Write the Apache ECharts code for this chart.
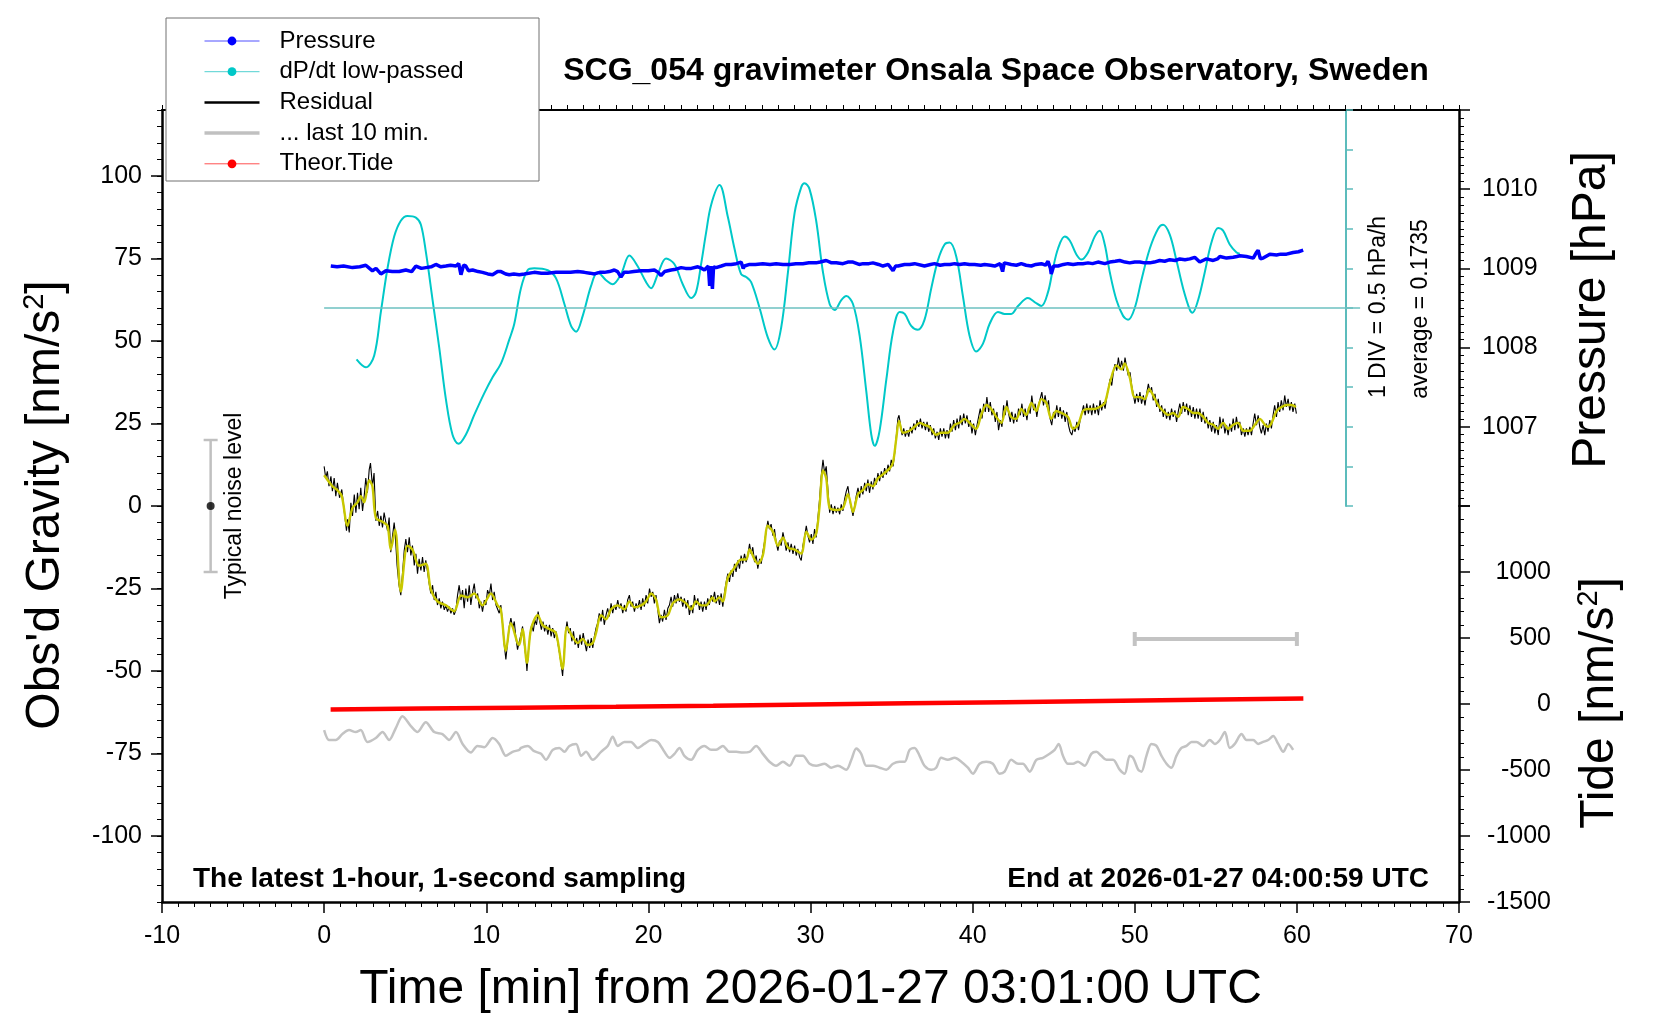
<!DOCTYPE html>
<html>
<head>
<meta charset="utf-8">
<script src="https://cdn.jsdelivr.net/npm/echarts@6/dist/echarts.min.js"></script>
<style>html,body{margin:0;padding:0;background:#fff;}#c{width:1660px;height:1020px;}</style>
</head>
<body>
<div id="c"></div>
<script>
// ---------- data ----------
const TITLE = 'SCG_054 gravimeter Onsala Space Observatory, Sweden';
const X_NAME = 'Time [min] from 2026-01-27 03:01:00 UTC';
const NOTE_LEFT = 'The latest 1-hour, 1-second sampling';
const NOTE_RIGHT = 'End at 2026-01-27 04:00:59 UTC';
const GRAVITY_TICKS = [-100, -75, -50, -25, 0, 25, 50, 75, 100];
const PRESSURE_LABELS = [1007, 1008, 1009, 1010];
const TIDE_LABELS = [-1500, -1000, -500, 0, 500, 1000];
const DPDT_AVG = 0.1735;   // hPa/h
const DPDT_DIV = 0.5;      // hPa/h per division
const AVG_LINE_SPAN = [0, 63.9];
const NOISE_BAR = [[-7, -20, 20]];       // [time, low, high]
const NOISE_DOT = [[-7, 0]];
const LAST10_BAR = [[50, 60, -40.3]];    // [from, to, level]

// Pressure [hPa]
const PRESSURE = [
[0.41,1009.03],[0.8,1009.02],[1.2,1009.03],[1.75,1009.01],[2.2,1009.02],[2.57,1009.04],[2.8,1009.00],[2.98,1008.97],[3.2,1009.00],[3.5,1008.93],[3.81,1008.97],[4.2,1008.96],[4.63,1008.96],[5.04,1008.98],[5.4,1008.96],[5.66,1009.03],[6.0,1009.00],[6.28,1009.01],[6.6,1009.02],[6.89,1009.05],[7.2,1009.02],[7.51,1009.03],[7.8,1009.04],[8.13,1009.03],[8.3,1009.06],[8.44,1008.92],[8.6,1009.04],[8.74,1009.03],[8.9,1008.97],[9.16,1008.98],[9.5,1008.96],[9.77,1008.95],[10.1,1008.93],[10.39,1008.92],[10.7,1008.96],[10.91,1008.96],[11.2,1008.93],[11.42,1008.92],[11.7,1008.93],[12.04,1008.92],
[12.35,1008.93],[12.96,1008.95],[13.4,1008.94],[13.79,1008.94],[14.3,1008.95],[14.82,1008.95],[15.2,1008.95],[15.64,1008.96],[16.05,1008.95],[16.4,1008.94],[16.67,1008.93],[17.0,1008.95],[17.29,1008.95],[17.6,1008.96],[17.9,1008.98],[18.1,1008.96],[18.31,1008.89],[18.5,1008.95],[18.73,1008.95],[19.1,1008.96],[19.55,1008.97],[20.0,1008.97],[20.37,1008.98],[20.6,1008.95],[20.78,1008.91],[21.0,1008.96],[21.4,1008.98],[21.7,1008.99],[22.02,1009.01],[22.3,1009.00],[22.64,1009.00],[23.05,1009.02],[23.3,1009.00],[23.46,1008.98],[23.7,1009.03],[23.78,1008.78],[23.85,1009.03],[23.95,1008.74],[24.02,1009.02],
[24.18,1009.01],[24.5,1009.03],[24.8,1009.05],[25.1,1009.05],[25.42,1009.06],[25.72,1009.08],[25.85,1009.00],[25.93,1009.03],[26.24,1009.05],[26.6,1009.05],[27.06,1009.06],[27.5,1009.05],[27.88,1009.06],[28.3,1009.05],[28.71,1009.05],[29.1,1009.06],[29.53,1009.06],[29.9,1009.07],[30.35,1009.07],[30.6,1009.08],[30.97,1009.10],[31.3,1009.07],[31.59,1009.07],[32.0,1009.06],[32.3,1009.08],[32.62,1009.08],[33.0,1009.05],[33.24,1009.06],[33.6,1009.06],[33.85,1009.07],[34.2,1009.05],[34.47,1009.03],[34.8,1009.05],[35.09,1008.97],[35.25,1009.03],[35.4,1009.03],[35.8,1009.05],[36.12,1009.05],
[36.42,1009.06],[37.03,1009.03],[37.4,1009.05],[37.65,1009.06],[38.0,1009.04],[38.27,1009.05],[38.6,1009.05],[38.89,1009.06],[39.2,1009.05],[39.5,1009.06],[39.8,1009.05],[40.12,1009.05],[40.5,1009.04],[40.74,1009.05],[41.1,1009.04],[41.36,1009.03],[41.7,1009.06],[41.85,1008.96],[41.95,1009.07],[42.38,1009.05],[42.7,1009.04],[43.0,1009.06],[43.3,1009.04],[43.62,1009.03],[43.9,1009.05],[44.24,1009.06],[44.5,1009.04],[44.65,1009.09],[44.8,1009.00],[44.85,1008.93],[45.0,1009.03],[45.27,1009.03],[45.6,1009.05],[45.88,1009.06],[46.2,1009.05],[46.5,1009.06],[46.8,1009.06],[47.12,1009.07],[47.4,1009.06],[47.73,1009.08],[48.15,1009.06],
[48.46,1009.08],[48.8,1009.09],[49.07,1009.10],[49.4,1009.08],[49.69,1009.07],[50.0,1009.08],[50.31,1009.08],[50.6,1009.07],[50.93,1009.07],[51.2,1009.08],[51.54,1009.10],[51.85,1009.09],[52.16,1009.11],[52.5,1009.10],[52.78,1009.12],[53.1,1009.11],[53.4,1009.12],[53.7,1009.14],[54.01,1009.08],[54.2,1009.10],[54.42,1009.12],[54.84,1009.10],[55.1,1009.12],[55.25,1009.15],[55.66,1009.13],[56.07,1009.14],[56.3,1009.15],[56.48,1009.16],[56.89,1009.15],[57.31,1009.13],[57.5,1009.20],[57.61,1009.23],[57.75,1009.12],[57.92,1009.13],[58.33,1009.18],[58.75,1009.17],[59.0,1009.18],[59.36,1009.18],[59.77,1009.20],[60.1,1009.21],[60.39,1009.23]
];

// dP/dt low-passed [hPa/h]
const DPDT = [
[2.00,-0.476],[2.57,-0.576],[3.09,-0.426],[3.50,0.124],[3.91,0.675],[4.32,1.075],[4.73,1.275],[5.14,1.335],[5.66,1.315],[5.97,1.225],[6.28,0.875],[6.69,0.274],[7.10,-0.326],[7.51,-0.977],[7.92,-1.427],[8.29,-1.542],[8.74,-1.427],[9.26,-1.177],[9.88,-0.901],[10.39,-0.701],[10.91,-0.526],[11.42,-0.226],[11.73,-0.026],[12.14,0.424],[12.55,0.650],[12.96,0.675],[13.79,0.650],[14.30,0.550],[14.82,0.224],[15.23,-0.051],[15.54,-0.126],[15.95,0.074],[16.46,0.449],[16.87,0.625],[17.39,0.525],[17.80,0.474],[18.31,0.600],[18.83,0.835],[19.34,0.700],[19.86,0.500],[20.17,0.424],[20.58,0.600],[21.09,0.800],[21.61,0.725],[22.12,0.474],[22.64,0.299],[22.94,0.374],[23.25,0.725],[23.56,1.125],[23.87,1.475],[24.39,1.725],[24.90,1.325],[25.31,0.925],[25.72,0.600],[26.03,0.565],[26.34,0.500],[26.86,0.174],[27.37,-0.201],[27.78,-0.351],[28.19,-0.076],[28.61,0.625],[29.02,1.375],[29.43,1.700],[29.63,1.750],[29.94,1.675],[30.35,1.275],[30.77,0.625],[31.18,0.224],[31.49,0.149],[31.90,0.274],[32.21,0.324],[32.62,0.224],[33.03,-0.176],[33.44,-0.877],[33.75,-1.427],[33.96,-1.567],[34.26,-1.377],[34.68,-0.726],[35.09,-0.126],[35.50,0.124],[35.81,0.099],[36.21,-0.051],[36.62,-0.101],[37.03,0.024],[37.45,0.424],[37.86,0.775],[38.27,0.975],[38.58,1.000],[38.99,0.825],[39.40,0.324],[39.81,-0.176],[40.22,-0.376],[40.64,-0.276],[41.05,-0.026],[41.56,0.124],[41.97,0.099],[42.38,0.099],[42.80,0.199],[43.41,0.299],[43.82,0.249],[44.24,0.199],[44.65,0.374],[44.96,0.675],[45.27,0.925],[45.68,1.075],[45.99,1.025],[46.40,0.850],[46.71,0.785],[47.12,0.875],[47.53,1.075],[47.84,1.150],[48.15,0.975],[48.46,0.625],[48.87,0.274],[49.28,0.074],[49.59,0.024],[50.00,0.174],[50.41,0.525],[50.93,0.925],[51.44,1.175],[51.75,1.225],[52.16,1.100],[52.57,0.775],[52.98,0.424],[53.40,0.149],[53.56,0.114],[53.91,0.274],[54.32,0.625],[54.73,1.000],[55.14,1.185],[55.45,1.150],[55.86,0.975],[56.28,0.875],[56.48,0.860]
];

// Residual gravity [nm/s^2], raw
const RESIDUAL = [
[0.00,12.0],[0.10,8.5],[0.20,10.5],[0.30,6.0],[0.42,9.0],[0.51,4.5],[0.62,8.5],[0.72,3.0],[0.82,7.0],[0.95,2.5],[1.09,5.0],[1.25,-2.0],[1.38,-7.5],[1.44,-4.0],[1.55,-8.0],[1.65,1.0],[1.75,-3.0],[1.86,3.5],[1.96,-2.0],[2.06,4.0],[2.16,-1.0],[2.26,5.5],[2.37,-1.5],[2.47,3.0],[2.57,8.5],[2.67,4.0],[2.78,11.0],[2.86,13.0],[2.98,6.0],[3.08,10.0],[3.19,-4.5],[3.30,-1.5],[3.40,-6.0],[3.50,-3.0],[3.60,-6.5],[3.70,-2.0],[3.81,-5.0],[3.91,-7.5],[4.01,-3.5],[4.11,-14.0],[4.22,-9.0],[4.32,-5.0],[4.38,-8.0],[4.50,-18.0],[4.62,-24.0],[4.73,-27.0],[4.84,-20.0],[4.94,-13.5],[5.04,-10.0],[5.14,-14.0],[5.25,-9.5],[5.35,-15.0],[5.45,-12.0],[5.56,-18.0],[5.66,-14.5],[5.76,-20.5],[5.86,-16.0],[5.97,-19.5],[6.07,-15.5],[6.17,-20.0],[6.27,-16.5],[6.38,-20.0],[6.48,-23.5],[6.58,-26.5],[6.69,-24.0],[6.79,-28.5],[6.89,-26.0],[6.99,-30.0],[7.10,-28.0],[7.20,-31.0],[7.30,-29.0],[7.41,-31.5],[7.51,-30.0],[7.61,-32.0],[7.72,-30.5],[7.82,-32.5],[7.92,-31.0],[8.02,-33.0],[8.13,-31.5],[8.23,-27.0],[8.33,-24.0],[8.44,-28.5],[8.54,-25.5],[8.64,-31.0],[8.74,-25.0],[8.85,-29.0],[8.95,-24.0],[9.05,-30.0],[9.16,-26.0],[9.26,-23.5],[9.36,-28.0],[9.47,-26.5],[9.57,-31.0],[9.67,-29.0],[9.77,-32.0],[9.88,-28.5],[9.98,-30.0],[10.08,-25.5],[10.19,-27.0],[10.29,-23.5],[10.39,-28.5],[10.49,-26.0],[10.60,-30.0],[10.70,-29.5],[10.80,-32.5],[10.90,-30.0],[11.01,-36.0],[11.11,-42.0],[11.21,-46.5],[11.32,-41.0],[11.42,-36.5],[11.52,-34.0],[11.63,-37.0],[11.73,-35.0],[11.83,-40.0],[11.93,-43.5],[12.04,-41.0],
[12.14,-39.0],[12.24,-36.5],[12.35,-42.0],[12.45,-46.0],[12.51,-50.0],[12.60,-44.0],[12.70,-39.0],[12.80,-36.0],[12.90,-38.0],[13.00,-34.5],[13.10,-36.0],[13.20,-32.0],[13.30,-35.0],[13.40,-37.5],[13.50,-35.0],[13.60,-38.0],[13.70,-36.0],[13.80,-39.0],[13.90,-36.0],[14.00,-39.5],[14.10,-37.0],[14.20,-40.0],[14.30,-38.0],[14.40,-41.0],[14.50,-44.0],[14.62,-48.0],[14.71,-51.5],[14.80,-45.0],[14.90,-38.0],[14.98,-35.0],[15.08,-38.5],[15.18,-37.0],[15.28,-41.0],[15.38,-38.0],[15.48,-42.0],[15.58,-40.0],[15.68,-43.0],[15.78,-39.0],[15.88,-42.0],[15.98,-38.5],[16.08,-41.5],[16.18,-44.0],[16.28,-40.5],[16.38,-43.0],[16.48,-40.0],[16.57,-43.0],[16.67,-39.5],[16.77,-37.0],[16.87,-35.5],[16.97,-32.5],[17.08,-35.0],[17.18,-31.5],[17.28,-36.0],[17.39,-33.0],[17.49,-31.0],[17.59,-33.5],[17.70,-29.5],[17.80,-32.5],[17.90,-30.0],[18.00,-31.5],[18.11,-28.5],[18.21,-31.0],[18.31,-29.5],[18.42,-32.5],[18.52,-30.0],[18.62,-32.0],[18.72,-28.5],[18.83,-27.0],[18.93,-30.5],[19.03,-29.0],[19.14,-32.0],[19.24,-29.5],[19.34,-31.0],[19.45,-28.5],[19.55,-31.5],[19.65,-28.0],[19.75,-30.5],[19.86,-27.0],[19.96,-29.5],[20.07,-25.0],[20.17,-27.5],[20.27,-26.0],[20.37,-29.5],[20.47,-27.0],[20.58,-31.5],[20.68,-35.5],[20.78,-33.0],[20.88,-35.0],[20.99,-31.5],[21.09,-34.5],[21.20,-31.0],[21.30,-30.0],[21.40,-27.5],[21.50,-30.5],[21.61,-27.0],[21.71,-29.5],[21.81,-26.5],[21.91,-29.0],[22.02,-27.5],[22.12,-30.5],[22.22,-28.0],[22.33,-31.0],[22.43,-28.5],[22.53,-33.0],[22.64,-30.0],[22.74,-32.5],[22.84,-27.0],[22.94,-30.0],[23.05,-28.0],[23.15,-31.5],[23.25,-29.0],[23.35,-32.0],[23.46,-29.0],[23.56,-31.5],[23.66,-28.0],[23.76,-30.0],[23.87,-27.0],[23.97,-29.0],
[24.08,-26.0],[24.18,-29.5],[24.29,-27.0],[24.39,-30.0],[24.49,-26.5],[24.59,-30.5],[24.70,-26.0],[24.80,-23.0],[24.90,-20.5],[25.00,-23.0],[25.10,-19.5],[25.21,-21.5],[25.31,-17.5],[25.41,-20.0],[25.52,-16.5],[25.62,-19.0],[25.72,-15.0],[25.82,-17.5],[25.93,-14.5],[26.03,-17.0],[26.13,-15.0],[26.24,-11.5],[26.34,-14.5],[26.44,-12.5],[26.55,-17.0],[26.65,-15.0],[26.75,-19.0],[26.86,-16.0],[26.96,-17.5],[27.06,-14.0],[27.16,-11.0],[27.27,-7.5],[27.37,-4.5],[27.47,-7.0],[27.57,-5.5],[27.68,-9.0],[27.78,-7.0],[27.88,-11.0],[27.99,-13.5],[28.09,-10.5],[28.19,-12.0],[28.30,-8.0],[28.40,-10.5],[28.50,-13.5],[28.61,-11.0],[28.71,-14.0],[28.81,-11.5],[28.92,-14.5],[29.02,-12.0],[29.12,-15.0],[29.22,-13.0],[29.33,-15.5],[29.43,-16.5],[29.53,-12.0],[29.63,-9.5],[29.74,-6.0],[29.84,-9.0],[29.94,-11.0],[30.05,-8.5],[30.15,-11.5],[30.25,-7.0],[30.35,-9.5],[30.45,-4.0],[30.56,2.0],[30.66,9.0],[30.77,14.0],[30.87,10.0],[30.97,12.0],[31.08,4.5],[31.18,-2.0],[31.28,0.5],[31.39,-2.5],[31.49,0.0],[31.59,-2.0],[31.69,-0.5],[31.80,-2.5],[31.90,0.5],[32.00,-1.5],[32.10,2.0],[32.21,4.5],[32.31,6.0],[32.41,2.0],[32.52,-0.5],[32.62,-3.0],[32.72,0.0],[32.82,3.0],[32.93,5.5],[33.03,2.5],[33.13,6.0],[33.23,3.5],[33.34,7.0],[33.44,4.5],[33.54,8.0],[33.64,4.0],[33.75,7.5],[33.85,5.0],[33.95,8.5],[34.06,6.5],[34.16,10.0],[34.26,7.5],[34.37,10.5],[34.47,8.5],[34.57,11.5],[34.68,9.5],[34.78,12.5],[34.88,10.5],[34.98,14.0],[35.09,12.0],[35.19,16.0],[35.29,21.0],[35.39,26.5],[35.46,27.5],[35.55,24.5],[35.65,21.5],[35.75,23.5],[35.85,21.0],[35.95,23.0],
[36.06,21.0],[36.16,24.0],[36.26,22.0],[36.37,25.0],[36.47,23.0],[36.57,26.0],[36.68,24.0],[36.78,26.5],[36.88,23.5],[36.98,25.5],[37.09,23.0],[37.19,25.5],[37.29,22.5],[37.39,24.5],[37.50,21.5],[37.60,23.5],[37.70,20.5],[37.81,22.5],[37.91,20.0],[38.01,23.5],[38.11,21.0],[38.22,23.5],[38.32,20.5],[38.42,23.0],[38.52,20.5],[38.63,25.0],[38.73,22.5],[38.83,26.0],[38.94,23.0],[39.04,26.5],[39.14,23.5],[39.24,27.5],[39.35,24.5],[39.45,28.0],[39.55,25.0],[39.65,27.5],[39.76,24.0],[39.86,26.0],[39.96,22.0],[40.06,25.0],[40.17,21.5],[40.27,24.5],[40.37,27.0],[40.47,29.5],[40.58,26.5],[40.68,31.0],[40.78,28.5],[40.88,33.0],[40.99,28.5],[41.09,31.5],[41.19,27.5],[41.29,29.5],[41.40,25.5],[41.50,28.5],[41.60,23.0],[41.70,26.0],[41.81,24.0],[41.91,30.5],[42.01,27.5],[42.12,32.0],[42.22,28.0],[42.32,25.5],[42.42,28.5],[42.53,25.0],[42.63,28.0],[42.73,25.5],[42.83,29.5],[42.94,27.5],[43.04,31.0],[43.14,27.0],[43.24,29.5],[43.35,26.0],[43.45,30.0],[43.55,28.0],[43.65,33.5],[43.76,29.0],[43.86,31.0],[43.96,27.0],[44.06,30.5],[44.17,31.0],[44.27,34.5],[44.37,30.5],[44.47,33.5],[44.58,30.0],[44.68,32.0],[44.78,26.5],[44.88,24.5],[44.99,28.5],[45.09,26.5],[45.19,30.5],[45.29,27.0],[45.40,30.0],[45.50,26.5],[45.60,29.0],[45.71,25.5],[45.81,28.5],[45.91,24.5],[46.01,22.5],[46.12,21.5],[46.22,24.0],[46.32,22.5],[46.43,25.5],[46.53,23.0],[46.63,26.0],[46.73,28.0],[46.84,30.5],[46.94,27.5],[47.04,31.0],[47.14,28.0],[47.25,30.5],[47.35,27.5],[47.45,31.0],[47.55,28.0],[47.66,30.5],[47.76,27.5],[47.86,32.0],[47.96,29.0],
[48.07,31.5],[48.17,29.5],[48.27,33.0],[48.37,35.5],[48.48,38.5],[48.58,36.5],[48.68,40.5],[48.78,43.0],[48.89,41.0],[48.99,45.0],[49.09,41.5],[49.19,44.0],[49.30,41.0],[49.40,45.0],[49.50,42.0],[49.60,39.5],[49.71,40.5],[49.81,36.5],[49.91,34.0],[50.01,31.0],[50.12,34.0],[50.22,31.5],[50.32,34.5],[50.42,31.0],[50.53,33.5],[50.63,30.5],[50.73,34.0],[50.84,37.0],[50.94,34.5],[51.04,36.0],[51.14,32.0],[51.25,34.0],[51.35,30.0],[51.45,32.5],[51.55,28.5],[51.66,30.5],[51.76,27.0],[51.86,29.5],[51.96,26.5],[52.07,28.5],[52.17,26.0],[52.27,29.5],[52.37,27.0],[52.48,29.0],[52.58,25.5],[52.68,28.5],[52.78,31.0],[52.89,28.0],[52.99,31.5],[53.09,28.5],[53.20,31.0],[53.30,27.5],[53.40,30.5],[53.50,27.0],[53.61,30.0],[53.71,26.5],[53.81,29.5],[53.91,26.5],[54.02,29.5],[54.12,25.5],[54.22,28.5],[54.33,25.0],[54.43,27.0],[54.53,23.5],[54.63,26.0],[54.74,22.5],[54.84,25.5],[54.94,22.0],[55.04,24.5],[55.15,21.5],[55.25,27.0],[55.35,23.5],[55.45,26.5],[55.56,22.0],[55.66,24.5],[55.76,21.5],[55.86,25.0],[55.97,22.5],[56.07,26.5],[56.17,23.0],[56.27,27.0],[56.38,23.5],[56.48,25.5],[56.58,21.5],[56.69,23.5],[56.79,21.0],[56.89,23.5],[56.99,21.5],[57.10,24.0],[57.20,21.5],[57.30,25.0],[57.40,28.0],[57.51,24.5],[57.61,27.5],[57.71,24.0],[57.81,22.0],[57.92,24.5],[58.02,21.5],[58.12,25.0],[58.22,22.5],[58.33,26.0],[58.43,23.5],[58.53,27.5],[58.63,30.5],[58.74,27.0],[58.84,31.5],[58.94,28.5],[59.04,32.0],[59.15,29.0],[59.25,33.5],[59.35,30.0],[59.46,32.5],[59.56,29.0],[59.66,31.5],[59.76,28.5],[59.87,31.0],[59.97,28.0]
];

// Residual gravity [nm/s^2], smoothed (yellow)
const RESIDUAL_SMOOTH = [
[0.00,9.3],[0.51,6.0],[0.82,4.8],[1.09,3.0],[1.44,-6.0],[1.75,-0.6],[2.06,1.1],[2.26,3.0],[2.47,1.1],[2.78,7.8],[2.98,6.0],[3.19,-3.6],[3.60,-4.8],[3.91,-6.0],[4.11,-13.2],[4.38,-7.2],[4.73,-25.9],[5.14,-12.0],[5.45,-13.2],[5.86,-18.1],[6.27,-17.5],[6.58,-25.3],[6.99,-28.9],[7.51,-30.1],[8.02,-31.9],[8.44,-27.1],[8.85,-27.7],[9.26,-26.5],[9.77,-30.1],[10.29,-26.5],[10.70,-30.1],[10.90,-31.3],[11.21,-43.9],[11.52,-35.5],[11.93,-41.5],
[12.04,-42.1],[12.24,-37.3],[12.51,-47.5],[12.76,-37.3],[13.17,-33.1],[13.48,-36.1],[13.89,-37.3],[14.30,-38.5],[14.71,-49.3],[14.98,-36.7],[15.33,-39.7],[15.64,-41.5],[15.95,-40.3],[16.26,-42.1],[16.57,-41.5],[16.77,-38.5],[17.08,-33.1],[17.39,-34.3],[17.70,-31.3],[18.11,-30.1],[18.52,-31.3],[18.83,-28.9],[19.14,-30.7],[19.55,-30.1],[19.86,-28.9],[20.17,-26.5],[20.47,-28.3],[20.78,-33.7],[21.20,-33.1],[21.50,-29.5],[21.91,-28.3],[22.33,-29.5],[22.64,-31.3],[22.94,-28.9],[23.25,-30.1],[23.56,-30.1],[23.97,-27.7],
[24.08,-28.9],[24.39,-27.7],[24.59,-28.9],[24.90,-21.7],[25.31,-18.7],[25.72,-16.2],[26.03,-16.2],[26.24,-13.2],[26.55,-16.2],[26.75,-17.5],[27.06,-15.0],[27.37,-6.0],[27.68,-7.8],[27.99,-12.0],[28.30,-9.6],[28.61,-12.6],[29.02,-13.2],[29.43,-14.4],[29.74,-7.8],[30.05,-10.2],[30.35,-8.4],[30.56,0.0],[30.77,10.8],[30.97,8.4],[31.18,-0.6],[31.59,-1.2],[32.00,-0.6],[32.31,3.6],[32.62,-1.8],[32.93,3.6],[33.23,4.8],[33.54,6.6],[33.85,6.0],[34.16,8.4],[34.47,9.6],[34.88,11.4],[35.09,13.2],[35.29,20.4],[35.46,25.8],[35.70,22.2],
[36.11,22.8],[36.42,24.0],[36.73,25.2],[37.03,24.6],[37.34,24.0],[37.75,21.6],[38.06,22.2],[38.47,22.2],[38.89,24.6],[39.20,25.2],[39.50,26.4],[39.81,25.2],[40.22,23.4],[40.53,27.6],[40.84,30.6],[41.15,29.4],[41.46,27.0],[41.77,25.2],[42.08,30.0],[42.38,27.0],[42.69,26.4],[43.00,29.4],[43.31,27.6],[43.62,31.2],[43.93,28.8],[44.24,32.4],[44.55,31.2],[44.85,26.4],[45.16,28.8],[45.47,28.2],[45.88,27.0],[46.19,23.4],[46.50,24.6],[46.81,28.8],[47.12,29.4],[47.53,29.4],[47.84,30.0],
[48.15,31.2],[48.46,37.2],[48.87,42.6],[49.18,41.4],[49.38,43.2],[49.69,39.0],[50.00,33.0],[50.31,33.0],[50.62,32.4],[50.89,35.4],[51.13,33.6],[51.44,30.6],[51.75,28.8],[52.06,27.6],[52.37,28.2],[52.68,27.0],[52.98,30.0],[53.29,29.4],[53.60,28.2],[53.91,28.2],[54.22,27.0],[54.53,25.2],[54.84,24.6],[55.14,23.4],[55.45,25.2],[55.76,23.4],[56.07,24.6],[56.38,25.2],[56.69,22.8],[57.10,22.8],[57.41,24.6],[57.72,26.4],[58.03,24.6],[58.23,24.0],[58.44,25.2],[58.75,28.8],[59.06,30.0],[59.36,30.6],[59.67,30.6],[59.94,30.0]
];

// "... last 10 min." trace [nm/s^2]
const LAST10 = [
[0.00,-67.9],[0.31,-70.9],[0.72,-70.9],[1.13,-69.1],[1.54,-67.9],[1.95,-68.5],[2.26,-67.9],[2.67,-71.5],[3.19,-70.3],[3.60,-68.5],[4.01,-70.9],[4.42,-67.3],[4.83,-63.7],[5.35,-66.7],[5.76,-68.5],[6.27,-65.5],[6.79,-68.5],[7.30,-69.1],[7.71,-70.9],[8.13,-68.5],[8.54,-72.1],[9.05,-74.7],[9.46,-72.7],[9.88,-73.1],[10.39,-70.3],[10.80,-72.1],[11.21,-75.7],[11.62,-74.5],[12.04,-73.9],
[12.14,-73.3],[12.55,-72.7],[12.96,-74.3],[13.38,-75.1],[13.68,-76.9],[14.10,-73.9],[14.51,-73.3],[14.82,-74.5],[15.13,-72.7],[15.54,-72.1],[15.85,-75.7],[16.15,-74.5],[16.57,-76.9],[17.08,-74.5],[17.49,-72.7],[17.80,-69.9],[18.11,-72.7],[18.52,-71.5],[18.93,-71.5],[19.34,-73.3],[19.75,-72.1],[20.17,-70.9],[20.58,-71.5],[20.99,-74.5],[21.30,-76.3],[21.61,-75.1],[21.92,-73.3],[22.22,-75.7],[22.64,-76.9],[23.05,-73.9],[23.46,-72.7],[23.87,-73.9],
[24.18,-73.9],[24.59,-72.7],[25.00,-74.5],[25.42,-74.5],[25.83,-74.7],[26.24,-74.5],[26.65,-72.7],[27.06,-75.1],[27.47,-77.5],[27.88,-78.7],[28.30,-77.5],[28.71,-78.7],[29.12,-75.7],[29.53,-75.7],[29.94,-78.1],[30.35,-78.7],[30.87,-78.1],[31.28,-79.3],[31.69,-78.7],[32.21,-79.9],[32.52,-76.9],[32.82,-73.5],[33.13,-75.1],[33.44,-78.7],[33.85,-78.7],[34.26,-79.3],[34.68,-79.9],[35.09,-78.1],[35.50,-77.5],[35.81,-77.5],
[36.11,-73.9],[36.42,-73.3],[36.73,-75.7],[37.03,-78.7],[37.45,-79.9],[37.75,-79.3],[38.06,-76.3],[38.47,-76.9],[38.89,-76.3],[39.30,-77.5],[39.71,-79.3],[40.02,-81.1],[40.43,-78.1],[40.84,-77.5],[41.25,-78.1],[41.66,-81.1],[41.97,-80.5],[42.38,-76.9],[42.80,-78.1],[43.10,-78.1],[43.52,-80.5],[43.93,-76.9],[44.34,-76.3],[44.75,-75.1],[45.06,-73.9],[45.31,-72.1],[45.57,-75.7],[45.88,-78.1],[46.19,-78.1],[46.50,-77.5],[46.91,-78.7],[47.32,-75.1],[47.63,-74.5],[47.94,-75.7],
[48.25,-76.9],[48.66,-76.9],[49.07,-79.9],[49.38,-81.1],[49.69,-75.7],[49.90,-76.3],[50.21,-79.9],[50.41,-80.5],[50.72,-75.7],[51.03,-72.1],[51.34,-72.7],[51.65,-75.7],[51.96,-78.1],[52.26,-79.3],[52.57,-75.7],[52.88,-73.3],[53.19,-72.7],[53.50,-71.5],[53.81,-71.5],[54.22,-72.7],[54.63,-70.9],[54.94,-72.1],[55.25,-70.9],[55.56,-68.5],[55.86,-73.3],[56.17,-72.1],[56.59,-69.1],[56.89,-70.9],[57.31,-70.9],[57.61,-72.1],[57.92,-71.5],[58.23,-70.9],[58.54,-69.7],[58.85,-72.1],[59.16,-74.5],[59.47,-72.1],[59.77,-73.9]
];

// Theoretical tide [nm/s^2]
const TIDE = [
[0.4,-42],[6,-35],[12,-28],[18,-21],[24,-13],[30,-4],[36,5],[42,14],[48,23],[54,32],[60.4,41]
];

// ---------- chart ----------
const FONT = 'Liberation Sans';
const chart = echarts.init(document.getElementById('c'), null, {renderer: 'canvas'});

const blackAxisLine = (w) => ({show: true, onZero: false, lineStyle: {color: '#000', width: w}});
const txt = (extra) => Object.assign({fontFamily: FONT, color: '#000'}, extra);

const option = {
  animation: false,
  backgroundColor: '#fff',
  textStyle: {fontFamily: FONT},
  grid: [
    {left: 162, top: 110, width: 1297, height: 792, outerBoundsMode: 'none', containLabel: false},
    {left: 162, top: 110, width: 1297, height: 396, outerBoundsMode: 'none', containLabel: false},
    {left: 162, top: 506, width: 1297, height: 396, outerBoundsMode: 'none', containLabel: false}
  ],
  xAxis: [
    {gridIndex: 0, type: 'value', position: 'bottom', min: -10, max: 70, interval: 10,
      axisLine: blackAxisLine(2.5),
      axisTick: {show: true, length: 11, lineStyle: {color: '#000', width: 1.5}},
      minorTick: {show: true, splitNumber: 10, length: 5, lineStyle: {color: '#000', width: 1}},
      splitLine: {show: false},
      axisLabel: txt({fontSize: 25, margin: 22}),
      name: X_NAME, nameLocation: 'middle', nameGap: 64,
      nameTextStyle: txt({fontSize: 48})},
    {gridIndex: 0, type: 'value', position: 'top', min: -10, max: 70, interval: 1,
      axisLine: blackAxisLine(2),
      axisTick: {show: true, length: 5, lineStyle: {color: '#000', width: 1}},
      axisLabel: {show: false}, splitLine: {show: false}},
    {gridIndex: 1, type: 'value', min: -10, max: 70, show: false},
    {gridIndex: 2, type: 'value', min: -10, max: 70, show: false}
  ],
  yAxis: [
    {gridIndex: 0, type: 'value', position: 'left', min: -120, max: 120, interval: 5,
      axisLine: blackAxisLine(2.5),
      axisTick: {show: true, length: 5, lineStyle: {color: '#000', width: 1}},
      axisLabel: {show: false}, splitLine: {show: false}},
    {gridIndex: 0, type: 'value', position: 'left', min: -120, max: 120,
      axisLine: {show: false, onZero: false},
      axisTick: {show: true, length: 11, customValues: GRAVITY_TICKS, lineStyle: {color: '#000', width: 1.5}},
      axisLabel: txt({fontSize: 25, margin: 20, padding: [5, 0, 0, 0], customValues: GRAVITY_TICKS}),
      splitLine: {show: false}},
    {gridIndex: 1, type: 'value', position: 'right', min: 1006, max: 1011, interval: 1,
      axisLine: blackAxisLine(2.5),
      axisTick: {show: true, length: 11, lineStyle: {color: '#000', width: 1.5}},
      minorTick: {show: true, splitNumber: 10, length: 5, lineStyle: {color: '#000', width: 1}},
      axisLabel: txt({fontSize: 25, margin: 23, padding: [6, 0, 0, 0], formatter: v => PRESSURE_LABELS.indexOf(v) >= 0 ? String(v) : ''}),
      splitLine: {show: false}},
    {gridIndex: 1, type: 'value', position: 'right', offset: -113, min: -5, max: 5, interval: 1,
      axisLine: {show: true, onZero: false, lineStyle: {color: '#5cbcbc', width: 2}},
      axisTick: {show: true, length: 7, lineStyle: {color: '#5cbcbc', width: 1.5}},
      axisLabel: {show: false}, splitLine: {show: false}},
    {gridIndex: 2, type: 'value', position: 'right', min: -1500, max: 1500, interval: 500,
      axisLine: blackAxisLine(2.5),
      axisTick: {show: true, length: 11, lineStyle: {color: '#000', width: 1.5}},
      minorTick: {show: true, splitNumber: 5, length: 5, lineStyle: {color: '#000', width: 1}},
      axisLabel: txt({fontSize: 25, margin: 92, align: 'right', padding: [6, 0, 0, 0],
        formatter: v => TIDE_LABELS.indexOf(v) >= 0 ? String(v) : ''}),
      splitLine: {show: false}}
  ],
  legend: {
    orient: 'vertical', left: 204, top: 29, z: 20, padding: 0,
    itemWidth: 55, itemHeight: 11, itemGap: 6.7, selectedMode: false,
    textStyle: {fontFamily: FONT, fontSize: 24, color: '#000', lineHeight: 24, padding: [0, 0, 0, 15]},
    data: [
      {name: 'Pressure', itemStyle: {color: '#0000ff'}, lineStyle: {color: '#5050ff', width: 1}},
      {name: 'dP/dt low-passed', itemStyle: {color: '#00c8c8'}, lineStyle: {color: '#50d0d0', width: 1}},
      {name: 'Residual', icon: 'path://M0,0L55,0L55,2.5L0,2.5Z', itemStyle: {color: '#000'}},
      {name: '... last 10 min.', icon: 'path://M0,0L55,0L55,3.5L0,3.5Z', itemStyle: {color: '#c0c0c0'}},
      {name: 'Theor.Tide', itemStyle: {color: '#ff0000'}, lineStyle: {color: '#ff5050', width: 1}}
    ]
  },
  graphic: [
    {type: 'rect', z: 15, shape: {x: 166, y: 18, width: 373, height: 163},
      style: {fill: '#fff', stroke: '#707070', lineWidth: 1}},
    {type: 'text', x: 996, y: 71, style: {text: TITLE, fontFamily: FONT, fontSize: 32, fontWeight: 'bold', fill: '#000', align: 'center', verticalAlign: 'middle'}},
    {type: 'text', x: 193, y: 879, style: {text: NOTE_LEFT, fontFamily: FONT, fontSize: 28, fontWeight: 'bold', fill: '#000', align: 'left', verticalAlign: 'middle'}},
    {type: 'text', x: 1429, y: 879, style: {text: NOTE_RIGHT, fontFamily: FONT, fontSize: 28, fontWeight: 'bold', fill: '#000', align: 'right', verticalAlign: 'middle'}},
    {type: 'text', x: 1379, y: 307, rotation: Math.PI / 2, style: {text: '1 DIV = 0.5 hPa/h', fontFamily: FONT, fontSize: 23, fill: '#000', align: 'center', verticalAlign: 'middle'}},
    {type: 'text', x: 1421, y: 309, rotation: Math.PI / 2, style: {text: 'average = ' + DPDT_AVG, fontFamily: FONT, fontSize: 23, fill: '#000', align: 'center', verticalAlign: 'middle'}},
    {type: 'text', x: 235, y: 506, rotation: Math.PI / 2, style: {text: 'Typical noise level', fontFamily: FONT, fontSize: 23, fill: '#000', align: 'center', verticalAlign: 'middle'}},
    {type: 'text', x: 46, y: 505, rotation: Math.PI / 2, style: {
      text: "{a|Obs'd Gravity [nm/s}{s|2}{a|]}", align: 'center', verticalAlign: 'middle',
      rich: {a: {fontFamily: FONT, fontSize: 48, fill: '#000', lineHeight: 52},
             s: {fontFamily: FONT, fontSize: 29, fill: '#000', verticalAlign: 'top', lineHeight: 52}}}},
    {type: 'text', x: 1592, y: 310, rotation: Math.PI / 2, style: {text: 'Pressure [hPa]', fontFamily: FONT, fontSize: 48, fill: '#000', align: 'center', verticalAlign: 'middle'}},
    {type: 'text', x: 1600, y: 703, rotation: Math.PI / 2, style: {
      text: '{a|Tide [nm/s}{s|2}{a|]}', align: 'center', verticalAlign: 'middle',
      rich: {a: {fontFamily: FONT, fontSize: 48, fill: '#000', lineHeight: 52},
             s: {fontFamily: FONT, fontSize: 29, fill: '#000', verticalAlign: 'top', lineHeight: 52}}}}
  ],
  series: [
    {name: '... last 10 min.', type: 'line', xAxisIndex: 0, yAxisIndex: 0, data: LAST10,
      symbol: 'none', smooth: 0.3, lineStyle: {color: '#c3c3c3', width: 2.5}, itemStyle: {color: '#c0c0c0'}, z: 2},
    {name: 'Residual', type: 'line', xAxisIndex: 0, yAxisIndex: 0, data: RESIDUAL,
      symbol: 'none', lineStyle: {color: '#000', width: 1.1}, itemStyle: {color: '#000'}, z: 3},
    {name: 'Residual smoothed', type: 'line', xAxisIndex: 0, yAxisIndex: 0, data: RESIDUAL_SMOOTH,
      symbol: 'none', smooth: 0.3, lineStyle: {color: '#c8c800', width: 2.4}, itemStyle: {color: '#c8c800'}, z: 4},
    {name: 'dP/dt low-passed', type: 'line', xAxisIndex: 2, yAxisIndex: 3,
      data: DPDT.map(p => [p[0], (p[1] - DPDT_AVG) / DPDT_DIV]),
      symbol: 'circle', showSymbol: false, smooth: 0.35, lineStyle: {color: '#00c8c8', width: 2}, itemStyle: {color: '#00c8c8'}, z: 3,
      markLine: {silent: true, symbol: ['none', 'none'], label: {show: false}, animation: false,
        lineStyle: {color: '#6cc0c0', width: 1.5, type: 'solid'},
        data: [[{coord: [AVG_LINE_SPAN[0], 0]}, {coord: [AVG_LINE_SPAN[1], 0]}]]}},
    {name: 'Pressure', type: 'line', xAxisIndex: 2, yAxisIndex: 2, data: PRESSURE,
      symbol: 'circle', showSymbol: false, lineStyle: {color: '#0000ff', width: 3.5}, itemStyle: {color: '#0000ff'}, z: 5},
    {name: 'Theor.Tide', type: 'line', xAxisIndex: 3, yAxisIndex: 4, data: TIDE,
      symbol: 'circle', showSymbol: false, lineStyle: {color: '#ff0000', width: 4.5}, itemStyle: {color: '#ff0000'}, z: 5},
    {name: 'noise bar', type: 'custom', xAxisIndex: 0, yAxisIndex: 0, data: NOISE_BAR, z: 5,
      renderItem: (params, api) => {
        const top = api.coord([api.value(0), api.value(2)]);
        const bot = api.coord([api.value(0), api.value(1)]);
        const st = {stroke: '#c0c0c0', lineWidth: 2.5};
        return {type: 'group', children: [
          {type: 'line', shape: {x1: top[0], y1: top[1], x2: bot[0], y2: bot[1]}, style: st},
          {type: 'line', shape: {x1: top[0] - 7, y1: top[1], x2: top[0] + 7, y2: top[1]}, style: st},
          {type: 'line', shape: {x1: bot[0] - 7, y1: bot[1], x2: bot[0] + 7, y2: bot[1]}, style: st}
        ]};
      }},
    {name: 'last10 bar', type: 'custom', xAxisIndex: 0, yAxisIndex: 0, data: LAST10_BAR, z: 5,
      renderItem: (params, api) => {
        const a = api.coord([api.value(0), api.value(2)]);
        const b = api.coord([api.value(1), api.value(2)]);
        const st = {stroke: '#c3c3c3', lineWidth: 4};
        return {type: 'group', children: [
          {type: 'line', shape: {x1: a[0], y1: a[1], x2: b[0], y2: b[1]}, style: st},
          {type: 'line', shape: {x1: a[0], y1: a[1] - 7, x2: a[0], y2: a[1] + 7}, style: st},
          {type: 'line', shape: {x1: b[0], y1: b[1] - 7, x2: b[0], y2: b[1] + 7}, style: st}
        ]};
      }},
    {name: 'noise dot', type: 'scatter', xAxisIndex: 0, yAxisIndex: 0, data: NOISE_DOT,
      symbol: 'circle', symbolSize: 8, itemStyle: {color: '#000'}, z: 6}
  ]
};
chart.setOption(option);
</script>
</body>
</html>
